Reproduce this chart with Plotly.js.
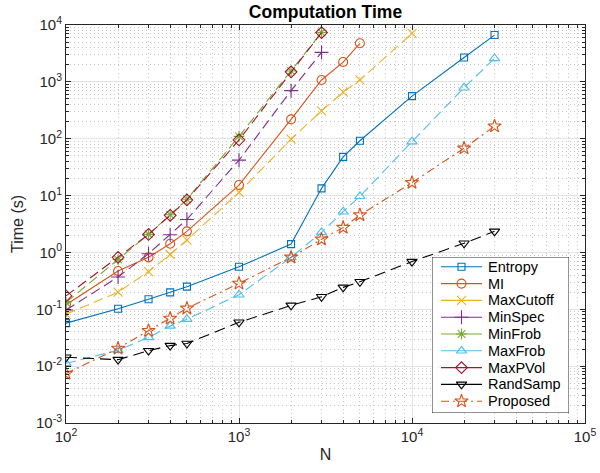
<!DOCTYPE html>
<html>
<head>
<meta charset="utf-8">
<script src="https://cdn.plot.ly/plotly-3.0.1.min.js"></script>
<style>html,body{margin:0;padding:0;background:#fff;}#chart{width:600px;height:473px;}</style>
</head>
<body>
<div id="chart"></div>
<script>
// Problem sizes
const N_full  = [100, 200, 300, 400, 500, 1000, 2000, 3000, 4000, 5000, 10000, 20000, 30000];
const N_5000  = [100, 200, 300, 400, 500, 1000, 2000, 3000, 4000, 5000];
const N_10000 = [100, 200, 300, 400, 500, 1000, 2000, 3000, 4000, 5000, 10000];
const N_3000  = [100, 200, 300, 400, 500, 1000, 2000, 3000];

// Computation times (s)
const entropy   = [0.057, 0.102, 0.15, 0.198, 0.25, 0.56, 1.40, 13.4, 48, 92, 560, 2680, 6650];
const mi        = [0.12, 0.47, 0.82, 1.42, 2.35, 15.3, 219, 1080, 2230, 4770];
const maxCutoff = [0.082, 0.20, 0.46, 0.92, 1.65, 11.4, 98, 310, 660, 1080, 7100];
const minSpec   = [0.097, 0.37, 0.95, 2.05, 3.8, 42, 700, 3300];
const minFrob   = [0.132, 0.75, 2.08, 4.6, 8.6, 110, 1550, 7400];
const maxFrob   = [0.0112, 0.019, 0.032, 0.051, 0.067, 0.18, 0.82, 2.25, 5.2, 9.7, 89, 790, 2590];
const maxPVol   = [0.172, 0.82, 2.07, 4.5, 8.4, 95, 1500, 7350];
const randSamp  = [0.0143, 0.013, 0.0187, 0.023, 0.025, 0.059, 0.117, 0.166, 0.243, 0.305, 0.69, 1.45, 2.35];
const proposed  = [0.0074, 0.0205, 0.042, 0.069, 0.104, 0.285, 0.82, 1.70, 2.74, 4.55, 16.9, 68, 166];

const names = ['Entropy','MI','MaxCutoff','MinSpec','MinFrob','MaxFrob','MaxPVol','RandSamp','Proposed'];

// Tick labels
const xTickVals = [100, 1000, 10000, 100000];
const xTickText = ['10<sup>2</sup>', '10<sup>3</sup>', '10<sup>4</sup>', '10<sup>5</sup>'];
const yTickVals = [0.001, 0.01, 0.1, 1, 10, 100, 1000, 10000];
const yTickText = ['10<sup>-3</sup>', '10<sup>-2</sup>', '10<sup>-1</sup>', '10<sup>0</sup>',
                   '10<sup>1</sup>', '10<sup>2</sup>', '10<sup>3</sup>', '10<sup>4</sup>'];

const styles = [
  {x: N_full,  y: entropy,   color: '#0072BD', dash: 'solid',           symbol: 'square-open',        size: 7},
  {x: N_5000,  y: mi,        color: '#D95319', dash: 'solid',           symbol: 'circle-open',        size: 9},
  {x: N_10000, y: maxCutoff, color: '#EDB120', dash: '10px,5px',        symbol: 'x-thin-open',        size: 9},
  {x: N_3000,  y: minSpec,   color: '#7E2F8E', dash: '10px,5px',        symbol: 'cross-thin-open',    size: 10},
  {x: N_3000,  y: minFrob,   color: '#77AC30', dash: '10px,5px',        symbol: 'asterisk-open',      size: 9},
  {x: N_full,  y: maxFrob,   color: '#4DBEEE', dash: '10px,5px',        symbol: 'triangle-up-open',   size: 9},
  {x: N_3000,  y: maxPVol,   color: '#A2142F', dash: '10px,5px',        symbol: 'diamond-open',       size: 9},
  {x: N_full,  y: randSamp,  color: '#000000', dash: '11px,6px',        symbol: 'triangle-down-open', size: 9},
  {x: N_full,  y: proposed,  color: '#D95319', dash: '8px,4px,2px,4px', symbol: 'star-open',          size: 10}
];

const data = [];
styles.forEach((s, i) => {
  data.push({
    type: 'scatter', mode: 'lines+markers', name: names[i], x: s.x, y: s.y,
    showlegend: false,
    line: {color: s.color, width: 1.1, dash: s.dash},
    marker: {symbol: s.symbol, size: s.size, color: s.color, line: {color: s.color, width: 1.1}}
  });
});

// Legend drawn on an overlay axis (pixel-like units inside the legend box)
const LG = {left: 432, right: 569, top: 257, bottom: 413, lineX0: 441, lineX1: 482, textX: 486, row0: 266.8, rowStep: 16.8};
const legendDash = ['solid','solid','solid','solid','solid','solid','solid','solid','8px,4px,2px,4px'];
const annotations = [];
styles.forEach((s, i) => {
  const ry = LG.row0 + i * LG.rowStep;
  data.push({
    type: 'scatter', mode: 'lines', x: [LG.lineX0, LG.lineX1], y: [ry, ry],
    xaxis: 'x2', yaxis: 'y2', showlegend: false, hoverinfo: 'skip',
    line: {color: s.color, width: 1.1, dash: legendDash[i]}
  });
  data.push({
    type: 'scatter', mode: 'markers', x: [(LG.lineX0 + LG.lineX1) / 2], y: [ry],
    xaxis: 'x2', yaxis: 'y2', showlegend: false, hoverinfo: 'skip',
    marker: {symbol: s.symbol, size: s.size, color: s.color, line: {color: s.color, width: 1.1}}
  });
  annotations.push({
    xref: 'x2', yref: 'y2', x: LG.textX, y: ry, text: names[i], showarrow: false,
    xanchor: 'left', yanchor: 'middle',
    font: {family: 'Liberation Sans, Arial, sans-serif', size: 14.5, color: '#000'}
  });
});

const axisCommon = {
  type: 'log', exponentformat: 'power', tickmode: 'array',
  showline: true, linecolor: '#262626', linewidth: 1, mirror: 'ticks',
  ticks: 'inside', ticklen: 5, tickcolor: '#262626',
  showgrid: true, gridcolor: '#e3e3e3', gridwidth: 1,
  zeroline: false,
  tickfont: {family: 'Liberation Sans, Arial, sans-serif', size: 15, color: '#262626'},
  minor: {ticks: 'inside', ticklen: 3, tickcolor: '#262626', showgrid: true, dtick: 'D1',
          gridcolor: '#c4c4c4', griddash: '1px,3px', gridwidth: 1}
};

const PW = 519, PH = 398; // plot area size in px
const layout = {
  width: 600, height: 473,
  margin: {l: 66, r: 15, t: 25, b: 50},
  paper_bgcolor: '#fff', plot_bgcolor: '#fff',
  font: {family: 'Liberation Sans, Arial, sans-serif', color: '#262626'},
  title: {text: '<b>Computation Time</b>', x: 0.5425, xanchor: 'center', y: 0.975, yanchor: 'middle',
          font: {size: 17.5, color: '#000'}},
  xaxis: Object.assign({}, axisCommon, {range: [2, 5], tickvals: xTickVals, ticktext: xTickText,
          title: {text: 'N', font: {size: 16, color: '#262626'}, standoff: 4}}),
  yaxis: Object.assign({}, axisCommon, {range: [-3, 4], tickvals: yTickVals, ticktext: yTickText,
          title: {text: 'Time (s)', font: {size: 16, color: '#262626'}, standoff: 8}}),
  xaxis2: {domain: [(LG.left - 66) / PW, (LG.right - 66) / PW], range: [LG.left, LG.right],
           anchor: 'y2', visible: false, fixedrange: true},
  yaxis2: {domain: [(423 - LG.bottom) / PH, (423 - LG.top) / PH], range: [LG.bottom, LG.top],
           anchor: 'x2', visible: false, fixedrange: true},
  shapes: [{type: 'rect', xref: 'x2', yref: 'y2', x0: LG.left, x1: LG.right, y0: LG.bottom, y1: LG.top,
            line: {color: '#262626', width: 1}, fillcolor: '#ffffff', layer: 'below'}],
  annotations: annotations,
  showlegend: false
};

Plotly.newPlot('chart', data, layout, {displayModeBar: false, staticPlot: true});
</script>
</body>
</html>
